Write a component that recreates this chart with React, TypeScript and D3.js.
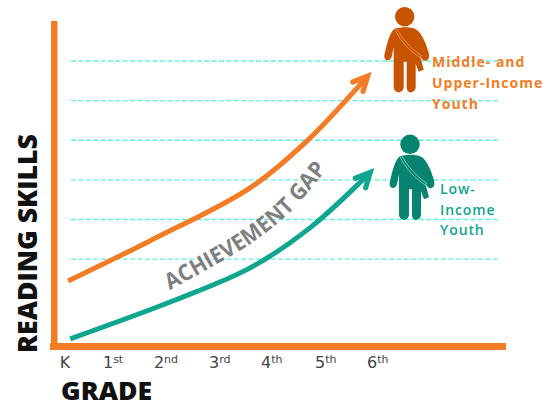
import React from "react";
import * as d3 from "d3";

const gridLevels = [1, 2, 3, 4, 5, 6];
const gradeTicks = [
  { g: -0.1, main: "K", sup: "" },
  { g: 0.73, main: "1", sup: "st" },
  { g: 1.71, main: "2", sup: "nd" },
  { g: 2.77, main: "3", sup: "rd" },
  { g: 3.77, main: "4", sup: "th" },
  { g: 4.81, main: "5", sup: "th" },
  { g: 5.81, main: "6", sup: "th" },
];
const upperGrades = [0.06, 1.63, 3.56, 4.65, 5.82];
const upperSkills = [0.45, 1.46, 2.8, 3.98, 5.62];
const lowerGrades = [0.1, 2.12, 3.56, 4.71, 5.87];
const lowerSkills = [-1.01, -0.03, 0.78, 1.79, 3.19];
const gapGrades = [2.02, 2.79, 3.56, 4.33, 5.02];
const gapSkills = [0.22, 0.78, 1.38, 2.19, 3.25];

const upperLabel = ["Middle- and", "Upper-Income", "Youth"];
const lowerLabel = ["Low-", "Income", "Youth"];

const x = d3.scaleLinear().domain([0, 6]).range([65, 377]);
const y = d3.scaleLinear().domain([0, 6]).range([298.8, 61]);

const ORANGE = "#f57c26";
const TEAL = "#0fa68f";
const GRID = "#5ff2e2";
const FONT = "'Open Sans', 'Noto Sans', sans-serif";

function toPts(gs: number[], vs: number[]): [number, number][] {
  return gs.map((g, i) => [x(g), y(vs[i])]);
}
const smooth = d3.line().curve(d3.curveCatmullRom.alpha(0.5));
const straight = d3.line();

function Arrow({ gs, vs, color }: { gs: number[]; vs: number[]; color: string }) {
  const pts = toPts(gs, vs);
  const [tx, ty] = pts[pts.length - 1];
  const a = (-47.5 * Math.PI) / 180;
  const barb = (da: number, len: number): [number, number] => [
    tx - len * Math.cos(a + da),
    ty - len * Math.sin(a + da),
  ];
  return (
    <g fill="none" stroke={color}>
      <path d={smooth(pts) || ""} strokeWidth={5} strokeLinecap="butt" />
      <path
        d={straight([barb(0.45, 16), [tx, ty], barb(-0.45, 16)]) || ""}
        strokeWidth={5.2}
        strokeLinecap="round"
        strokeLinejoin="miter"
      />
    </g>
  );
}

function Person({ tx, ty, color, strap }: { tx: number; ty: number; color: string; strap: string }) {
  return (
    <g transform={`translate(${tx},${ty})`}>
      <circle cx={0} cy={0} r={9.7} fill={color} />
      <path
        fill={color}
        d="M-10,12 C-3,10 5,10 10,12 C15,14 18,20 21,27 L24,36 C25,41 24,43 21,44 C18,44 17,42 15,38 L19,53 L14,55 L11,47 L11,70 C11,74 8,75.5 6,75.5 C3,75.5 2,73 2,70 L2,45 L-1,45 L-1,70 C-1,74 -4,75.5 -6,75.5 C-9,75.5 -11,73 -11,70 L-11,30 L-13,40 C-14,43 -16,44 -18,43.5 C-20,43 -21,40 -20,37 C-18,28 -15,15 -10,12 Z"
      />
      <path
        fill="none"
        stroke={strap}
        strokeWidth={0.8}
        d="M-10,12 C-6,22 4,34 16,41 M-8,11.5 C-4,20 6,32 17,39"
      />
    </g>
  );
}

function Gap() {
  const pts = toPts(gapGrades, gapSkills);
  return (
    <g>
      <path id="gapPath" d={smooth(pts) || ""} fill="none" />
      <text fontFamily={FONT} fontWeight={700} fontSize={22.5} fill="#7f7f7f">
        <textPath href="#gapPath" textLength={200} lengthAdjust="spacingAndGlyphs">
          ACHIEVEMENT GAP
        </textPath>
      </text>
    </g>
  );
}

export default function App() {
  return (
    <svg
      width={544}
      height={403}
      viewBox="0 0 544 403"
      style={{ position: "absolute", left: 0, top: 0, background: "#fff" }}
    >
      {gridLevels.map((v) => (
        <line key={v} x1={71} x2={498} y1={y(v)} y2={y(v)} stroke={GRID} strokeWidth={1.4} strokeDasharray="5 2.4" />
      ))}
      <rect x={51} y={21} width={6.5} height={329} fill={ORANGE} />
      <rect x={50} y={343} width={456} height={7} fill={ORANGE} />

      {gradeTicks.map((t) => (
        <text key={t.main} x={x(t.g)} y={368} fontFamily="'DejaVu Sans', sans-serif" fontSize={16} fill="#444">
          {t.main}
          {t.sup && (
            <tspan dy={-5.5} fontSize={11}>
              {t.sup}
            </tspan>
          )}
        </text>
      ))}
      <text x={61} y={400} fontFamily={FONT} fontWeight={800} fontSize={25} fill="#111" textLength={91} lengthAdjust="spacingAndGlyphs">
        GRADE
      </text>
      <text
        transform="translate(37,353) rotate(-90)"
        fontFamily={FONT}
        fontWeight={800}
        fontSize={27}
        fill="#111"
        textLength={219}
        lengthAdjust="spacingAndGlyphs"
      >
        READING SKILLS
      </text>

      <Arrow gs={upperGrades} vs={upperSkills} color={ORANGE} />
      <Arrow gs={lowerGrades} vs={lowerSkills} color={TEAL} />
      <Gap />

      <Person tx={404.7} ty={16.7} color="#c85300" strap="#ef9a66" />
      <Person tx={410} ty={144.3} color="#068471" strap="#8fd0c4" />

      {upperLabel.map((s, i) => (
        <text key={s} x={432} y={67 + i * 20.8} fontFamily={FONT} fontWeight={700} fontSize={14} fill={ORANGE} letterSpacing={1}>
          {s}
        </text>
      ))}
      {lowerLabel.map((s, i) => (
        <text key={s} x={440} y={194 + i * 20.5} fontFamily={FONT} fontWeight={600} fontSize={14} fill={TEAL} letterSpacing={0.9}>
          {s}
        </text>
      ))}
    </svg>
  );
}
